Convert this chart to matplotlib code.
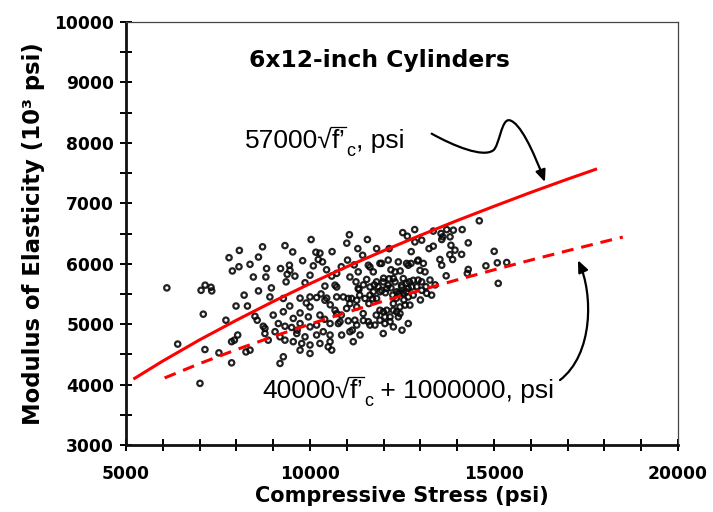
import matplotlib
matplotlib.use("Agg")
import matplotlib.pyplot as plt
from matplotlib.path import Path
from matplotlib.patches import FancyArrowPatch
from matplotlib.lines import Line2D
from matplotlib.transforms import IdentityTransform
from matplotlib.ticker import MultipleLocator

# ---------------- data ----------------
strength_psi = [
    8080, 7800, 8710, 8600, 8070, 7890, 8370, 8820, 8460, 8800, 6110, 7150, 7310, 7040, 7330, 8210,
    11070, 11000, 11560, 10030, 9320, 9530, 10160, 10270, 10340, 10225, 11810, 11430, 11020, 10090,
    9440, 9455, 9380, 9200, 9590, 9350, 10000, 9865, 10590, 10725, 10405, 11085, 11310, 11630, 11720,
    11540, 11330, 10905, 10455, 9730, 10180, 8910,
    14600, 12520, 12645, 12845, 13350, 13560, 13715, 13895, 14135, 13605, 13580, 13805, 12850, 13035,
    13350, 13235, 13830, 14300, 13940, 14120, 15005, 15090, 15345, 14780, 14300, 13875, 13530, 13580,
    12925, 13080, 12990, 13125, 12625, 12745, 12310, 12265, 12535, 12625, 12490, 12670, 12535, 12805,
    12355, 12125, 11990, 13260, 13035, 15115, 14275, 13305, 11945,
    7990, 7100, 7715, 8505, 8565, 8730, 8775, 7945, 8035, 7870, 6405, 7145, 7525, 8260, 8370, 7870,
    7010, 8865,
    9275, 10000, 10000, 10405, 10725, 11040, 11270, 11630, 11810, 9275, 9730, 9545, 9955, 10270, 10725,
    10995, 11270, 11445, 11900, 9140, 9320, 9500, 9730, 10000, 10180, 10545, 10770, 11040, 11270,
    11585, 11765, 12035, 9050, 9185, 8775, 9640, 9865, 10180, 10360, 10545, 10860, 11085, 11360, 9320,
    9545, 9775, 10000, 10270, 10545, 10495, 11175, 9730, 10000, 10590, 9275, 9185,
    12445, 12670, 12085, 12265, 12445, 12580, 12355, 12035, 11900, 12175, 12265, 11990, 12670, 12400,
    11585, 11900, 12125, 12400, 12670, 12940, 12940, 10725, 10680, 11310, 11630, 11810, 11720, 11900,
    12085, 12310, 12490, 12625, 12400, 12765, 12805, 11130, 11085, 11495, 12265, 11990, 12175, 13035,
    13170, 10680, 10815, 11220, 11630, 12445, 12715,
    11850, 11950, 12050, 12200, 12250, 11750, 12000, 12150, 11700, 11600, 11350, 11450, 11250, 12550,
    12350, 12700, 12900, 13150, 12200, 12450, 11200, 10850, 10450, 10300, 10550, 10850, 11450, 9900,
    9450, 9650, 10400, 11150, 11800, 12500, 13000, 13400, 13700, 13800, 12750, 12150, 11300, 10600,
    9800, 8950, 8600, 8300, 9000,
]
modulus_ksi = [
    6220, 6100, 6280, 6110, 5950, 5880, 5990, 5920, 5780, 5780, 5600, 5645, 5610, 5560, 5550, 5480,
    6480, 6340, 6400, 6400, 6300, 6195, 6190, 6175, 6030, 6070, 6250, 6140, 6060, 5965,
    5975, 5890, 5825, 5920, 5795, 5700, 5810, 5685, 5795, 5615, 5630, 5780, 5865, 5945, 5865,
    5740, 5575, 5450, 5430, 5430, 5440, 5450,
    6710, 6515, 6455, 6565, 6540, 6500, 6565, 6555, 6565, 6445, 6400, 6445, 6360, 6390,
    6290, 6250, 6305, 6345, 6225, 6155, 6205, 6015, 6020, 5965, 5905, 6070, 6070, 5975,
    6045, 6005, 5890, 5865, 6005, 6005, 5865, 5755, 5755, 5675, 5615, 5590, 5510, 5480,
    5535, 5645, 5700, 5730, 5700, 5675, 5840, 5480, 6005,
    5300, 5165, 5065, 5130, 5065, 4965, 4930, 4735, 4820, 4710, 4670, 4580, 4525, 4540, 4570, 4360,
    4020, 4735,
    5425, 5450, 5285, 5395, 5450, 5425, 5395, 5480, 5425, 5205, 5185, 5095, 5120, 5150, 5175,
    5260, 5285, 5175, 5230, 5010, 4965, 4945, 5010, 4955, 4985, 5010, 5010, 5055, 4985,
    5040, 4985, 5010, 4875, 4790, 4845, 4845, 4790, 4820, 4875, 4820, 4820, 4875, 4820, 4735,
    4710, 4680, 4655, 4680, 4710, 4625, 4710, 4570, 4515, 4570, 4460, 4350,
    5510, 5450, 5230, 5340, 5285, 5315, 5205, 5120, 5065, 5040, 4955, 4845, 5010, 5120,
    5975, 6005, 6060, 6030, 5975, 6060, 5730, 5840, 5645, 5590, 5615, 5700, 5535, 5535,
    5590, 5700, 5645, 5535, 5510, 5615, 5725, 5425, 5340, 5425, 5230, 5205, 5120, 5560,
    5510, 5230, 5040, 5065, 4985, 5175, 5315,
    5620, 5560, 5520, 5600, 5480, 5650, 5760, 5750, 5420, 5340, 5480, 5650, 5700, 5400,
    5430, 5700, 5620, 5620, 5900, 5880, 5980, 5950, 5900, 5500, 5320, 5150, 5060, 5350,
    5300, 4900, 5080, 4900, 5150, 4900, 5400, 5650, 5800, 6150, 6200, 6250, 6250, 6200,
    6050, 5600, 5550, 5300, 5150,
]

# ACI 318 line: 57000*sqrt(f'c)
aci_x = [5200, 6000, 7000, 8000, 9000, 10000, 11000, 12000, 13000, 14000, 15000, 16000, 17000, 17800]
aci_y = [4090, 4390, 4740, 5065, 5375, 5670, 5950, 6215, 6470, 6715, 6950, 7180, 7400, 7570]

# ACI 363 line: 40000*sqrt(f'c) + 1000000
hs_x = [6050, 7000, 8000, 9000, 10000, 11000, 12000, 13000, 14000, 15000, 16000, 17000, 18000, 18500]
hs_y = [4110, 4347, 4578, 4795, 5000, 5195, 5382, 5561, 5733, 5899, 6060, 6215, 6367, 6441]

x_ticks = [5000, 10000, 15000, 20000]
y_ticks = [3000, 4000, 5000, 6000, 7000, 8000, 9000, 10000]

# ---------------- style ----------------
plt.rcParams['font.family'] = ['DejaVu Sans']

fig = plt.figure(figsize=(7.13, 5.12), dpi=100)
ax = fig.add_axes([126 / 713, 67 / 512, 552 / 713, 423 / 512])

ax.scatter(strength_psi, modulus_ksi, s=15, facecolors='none', edgecolors='#0a0a0a',
           linewidths=1.6, alpha=0.9, zorder=2)

ax.plot(aci_x, aci_y, color='#ff0000', lw=2.2, solid_capstyle='butt', zorder=3)
ax.plot(hs_x, hs_y, color='#ff0000', lw=2.2, dashes=(3.9, 2.6), zorder=3)

ax.set_xlim(5000, 20000)
ax.set_ylim(3000, 10000)
ax.set_xticks(x_ticks)
ax.set_yticks(y_ticks)
ax.xaxis.set_minor_locator(MultipleLocator(1000))
ax.yaxis.set_minor_locator(MultipleLocator(500))
ax.tick_params(which='both', direction='inout', length=9, width=1.4, color='black',
               top=False, right=False)
ax.tick_params(axis='x', which='major', pad=10, labelsize=12.3)
ax.tick_params(axis='y', which='major', pad=4, labelsize=12.3)
for lab in ax.get_xticklabels() + ax.get_yticklabels():
    lab.set_fontweight('bold')

for side in ['left', 'bottom']:
    ax.spines[side].set_linewidth(2.0)
    ax.spines[side].set_color('#111111')
for side in ['top', 'right']:
    ax.spines[side].set_linewidth(0.9)
    ax.spines[side].set_color('#444444')

ax.set_xlabel('Compressive Stress (psi)', fontsize=15, fontweight='bold', labelpad=2)
ax.set_ylabel('Modulus of Elasticity (10³ psi)', fontsize=16.4, fontweight='bold', labelpad=7)

ax.text(0.46, 0.91, '6x12-inch Cylinders', transform=ax.transAxes, ha='center', va='center',
        fontsize=16.8, fontweight='bold')

# ---- formula labels built from pieces: "57000√" + "f’" (overbar) + subscript "c" + rest
FS = 19
FAM = 'Liberation Sans'


def formula(x, y, pre, post):
    t1 = ax.text(x, y, pre + '√', fontsize=FS, family=FAM, ha='left', va='baseline')
    t2 = ax.annotate('f’', xy=(1, 0), xycoords=t1, xytext=(-0.5, 0), textcoords='offset points',
                     fontsize=FS, family=FAM, ha='left', va='bottom')
    t3 = ax.annotate('c', xy=(1, 0), xycoords=t2, xytext=(0.5, -5), textcoords='offset points',
                     fontsize=13, family=FAM, ha='left', va='bottom')
    ax.annotate(post, xy=(1, 0), xycoords=(t3, t2), xytext=(0, 0), textcoords='offset points',
                fontsize=FS, family=FAM, ha='left', va='bottom')
    return t1, t2


label_pos = [(8235, 7920), (8715, 3780)]
pieces = [formula(label_pos[0][0], label_pos[0][1], '57000', ', psi'),
          formula(label_pos[1][0], label_pos[1][1], '40000', ' + 1000000, psi')]

fig.canvas.draw()
renderer = fig.canvas.get_renderer()
em = FS * fig.dpi / 72.0
for (t1, t2), (_, y) in zip(pieces, label_pos):
    b1 = t1.get_window_extent(renderer)
    b2 = t2.get_window_extent(renderer)
    base = ax.transData.transform((8000, y))[1]
    ybar = base + 0.80 * em
    fig.add_artist(Line2D([b1.x1 - 1.5, b2.x1 + 0.5], [ybar, ybar], transform=IdentityTransform(),
                          color='black', lw=0.9))

# curved arrows
v1 = [(13306, 8152), (13900, 7950), (14700, 7750), (14979, 7876),
      (15150, 7950), (15200, 8420), (15433, 8372),
      (15700, 8330), (16050, 7900), (16384, 7352)]
c1 = [Path.MOVETO] + [Path.CURVE4] * 9
a1 = FancyArrowPatch(path=Path(v1, c1), arrowstyle='-|>,head_length=7,head_width=3',
                     color='black', lw=1.6, zorder=4)
ax.add_patch(a1)

v2 = [(16792, 4074), (17700, 4500), (17700, 5500), (17281, 6058)]
c2 = [Path.MOVETO] + [Path.CURVE4] * 3
a2 = FancyArrowPatch(path=Path(v2, c2), arrowstyle='-|>,head_length=7,head_width=3',
                     color='black', lw=1.6, zorder=4)
ax.add_patch(a2)

fig.savefig('out.png', dpi=100)
